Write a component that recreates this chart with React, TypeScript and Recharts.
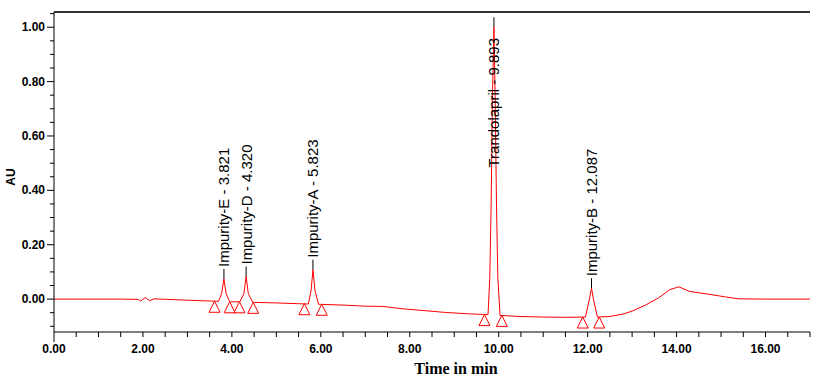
import { ComposedChart, Line, Scatter, XAxis, YAxis, ReferenceLine } from "recharts"

// chromatogram trace (min, AU)
const times = [
  0, 0.5, 1.0, 1.5, 1.9, 1.95, 2.05, 2.15, 2.25, 2.4, 3.0, 3.5,
  3.7, 3.77, 3.821, 3.87, 3.95, 4.18, 4.27, 4.32, 4.37, 4.47,
  5.0, 5.5, 5.72, 5.78, 5.823, 5.87, 5.95, 6.5, 7.0, 7.4, 7.8, 8.3, 8.8, 9.3,
  9.76, 9.8, 9.83, 9.86, 9.893, 9.92, 9.95, 9.98, 10.03,
  10.5, 11.0, 11.5, 11.95, 12.04, 12.087, 12.13, 12.22,
  12.5, 12.8, 13.0, 13.3, 13.6, 13.85, 14.05, 14.3, 14.8, 15.1, 15.4, 16.0, 17.0,
]
const absorbance = [
  0, 0, 0, 0, -0.001, -0.007, 0.006, -0.006, 0.001, 0, -0.004, -0.007,
  -0.008, 0.02, 0.074, 0.02, -0.01, -0.01, 0.02, 0.083, 0.02, -0.012,
  -0.014, -0.017, -0.018, 0.03, 0.108, 0.03, -0.019, -0.022, -0.026, -0.027, -0.035, -0.042, -0.049, -0.054,
  -0.057, 0.08, 0.35, 0.75, 1.0, 0.75, 0.35, 0.08, -0.06,
  -0.064, -0.066, -0.067, -0.066, 0.0, 0.04, 0.0, -0.066,
  -0.064, -0.055, -0.044, -0.022, 0.005, 0.035, 0.045, 0.028, 0.016, 0.008, 0.001, 0, 0,
]

const peakNames = ["Impurity-E", "Impurity-D", "Impurity-A", "Trandolapril", "Impurity-B"]
const peakTimes = [3.821, 4.32, 5.823, 9.893, 12.087]
const peakHeights = [0.074, 0.083, 0.108, 1.0, 0.04]

// peak start / end markers
const markerTimes = [3.61, 3.95, 4.17, 4.48, 5.63, 6.02, 9.68, 10.07, 11.89, 12.26]
const markerLevels = [-0.008, -0.01, -0.01, -0.012, -0.017, -0.019, -0.057, -0.06, -0.066, -0.066]

const xTicks = [
  0, 0.5, 1, 1.5, 2, 2.5, 3, 3.5, 4, 4.5, 5, 5.5, 6, 6.5, 7, 7.5, 8, 8.5,
  9, 9.5, 10, 10.5, 11, 11.5, 12, 12.5, 13, 13.5, 14, 14.5, 15, 15.5, 16, 16.5, 17,
]
const yTicks = [
  -0.1, -0.05, 0, 0.05, 0.1, 0.15, 0.2, 0.25, 0.3, 0.35, 0.4, 0.45, 0.5,
  0.55, 0.6, 0.65, 0.7, 0.75, 0.8, 0.85, 0.9, 0.95, 1.0, 1.05,
]
const yMax = 1.056

const trace = times.map((t, i) => ({ t, v: absorbance[i] }))
const peaks = peakNames.map((name, i) => ({ t: peakTimes[i], v: peakHeights[i], name }))
const markers = markerTimes.map((t, i) => ({ t, v: markerLevels[i] }))

const font = "Arial, 'Liberation Sans', sans-serif"

function isMajor(v: number, step: number) {
  return Math.round(v * 100) % Math.round(step * 100) === 0
}

function XTick({ x, y, payload }: any) {
  const v = payload.value as number
  return (
    <g>
      <line x1={x} y1={y} x2={x} y2={y + (v === 0 ? 10 : 5)} stroke="#000" />
      {isMajor(v, 2) && v < 17 && (
        <text x={x} y={y + 21} textAnchor="middle" fontSize={12} fontWeight="bold" fontFamily={font} fill="#000">
          {v.toFixed(2)}
        </text>
      )}
    </g>
  )
}

function YTick({ x, y, payload }: any) {
  const v = payload.value as number
  const major = v >= 0 && isMajor(v, 0.2)
  return (
    <g>
      <line x1={x - (major ? 7 : 4)} y1={y} x2={x} y2={y} stroke="#000" />
      {major && (
        <text x={x - 9} y={y + 4} textAnchor="end" fontSize={12} fontWeight="bold" fontFamily={font} fill="#000">
          {v.toFixed(2)}
        </text>
      )}
    </g>
  )
}

function Triangle({ cx, cy }: any) {
  return <path d={`M${cx},${cy} L${cx + 5.5},${cy + 11} L${cx - 5.5},${cy + 11} Z`} fill="none" stroke="#ff0000" strokeWidth={1} />
}

function PeakLabel({ cx, cy, payload }: any) {
  const label = `${payload.name} - ${payload.t.toFixed(3)}`
  const tall = cy < 100
  const ty = tall ? 38 : cy - 12
  return (
    <g>
      <line x1={cx} y1={cy} x2={cx} y2={cy - 10} stroke="#000" />
      <text
        x={cx}
        y={ty}
        transform={`rotate(-90, ${cx}, ${ty})`}
        textAnchor={tall ? "end" : "start"}
        dominantBaseline="central"
        fontSize={15}
        fontFamily={font}
        fill="#000"
      >
        {label}
      </text>
    </g>
  )
}

function XTitle({ viewBox }: any) {
  return (
    <text
      x={viewBox.x + viewBox.width / 2 + 24}
      y={viewBox.y + 42}
      textAnchor="middle"
      fontSize={16}
      fontWeight="bold"
      fontFamily="'Liberation Serif', 'Times New Roman', serif"
      fill="#000"
    >
      Time in min
    </text>
  )
}

function YTitle({ viewBox }: any) {
  const x = 11
  const y = viewBox.y + viewBox.height / 2 + 5
  return (
    <text x={x} y={y} transform={`rotate(-90, ${x}, ${y})`} textAnchor="middle" dominantBaseline="central"
      fontSize={12} fontWeight="bold" fontFamily={font} fill="#000">
      AU
    </text>
  )
}

export default function App() {
  return (
    <div style={{ position: "absolute", left: 0, top: 0, width: 820, height: 382, background: "#fff" }}>
      <ComposedChart width={820} height={382} margin={{ top: 12, right: 10, bottom: 0, left: 0 }}>
        <XAxis
          dataKey="t"
          type="number"
          domain={[0, 17]}
          ticks={xTicks}
          height={50}
          tickSize={0}
          tickMargin={0}
          tick={<XTick />}
          axisLine={{ stroke: "#000" }}
          tickLine={false}
          interval={0}
          label={<XTitle />}
        />
        <YAxis
          type="number"
          domain={[-0.121, yMax]}
          ticks={yTicks}
          width={54}
          tickSize={0}
          tickMargin={0}
          tick={<YTick />}
          tickLine={false}
          interval={0}
          axisLine={{ stroke: "#000" }}
          allowDataOverflow
          label={<YTitle />}
        />
        <YAxis
          yAxisId="right"
          orientation="right"
          type="number"
          domain={[0, 1]}
          width={0}
          tick={false}
          tickLine={false}
          axisLine={{ stroke: "#000", strokeWidth: 1.5 }}
        />
        <ReferenceLine y={yMax} stroke="#333" strokeWidth={2} />
        <Line
          data={trace}
          dataKey="v"
          type="linear"
          stroke="#ff0000"
          strokeWidth={1}
          dot={false}
          isAnimationActive={false}
        />
        <Scatter data={markers} dataKey="v" shape={<Triangle />} isAnimationActive={false} />
        <Scatter data={peaks} dataKey="v" shape={<PeakLabel />} isAnimationActive={false} />
      </ComposedChart>
    </div>
  )
}
